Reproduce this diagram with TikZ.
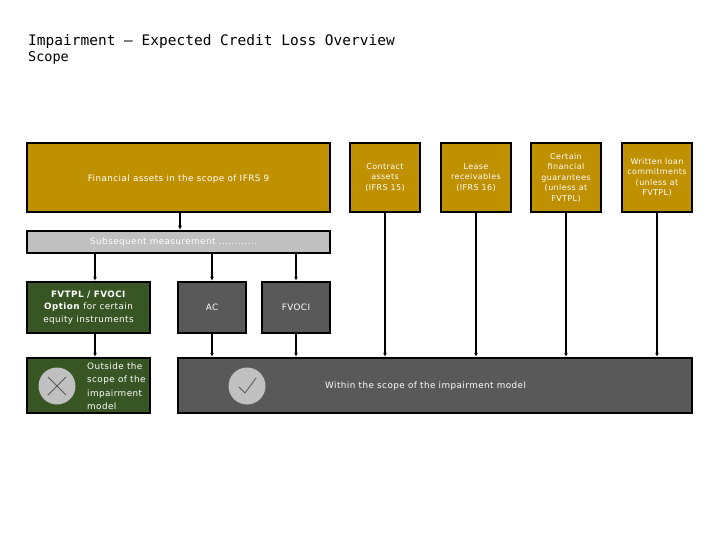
\documentclass[tikz,border=0pt]{standalone}
\usepackage{fontspec}
\setmainfont{DejaVu Sans}[LetterSpace=5]
\newfontfamily\titlefont{DejaVu Sans Mono}
\usetikzlibrary{arrows.meta}
\begin{document}
\begin{tikzpicture}[x=1pt,y=-1pt,
 box/.style={draw=black,line width=2.5pt,text=white,inner sep=1pt,align=center,font=\fontsize{8}{10.5}\selectfont},
 gold/.style={box,fill=gold},
 dg/.style={box,fill=dgray},
 gr/.style={box,fill=dgreen},
 lbl/.style={text=white,font=\fontsize{8.8}{11.5}\selectfont,inner sep=0},
 arr/.style={line width=1.3pt,-{Latex[length=4pt,width=4pt]}}]
\definecolor{gold}{HTML}{BF9000}
\definecolor{dgray}{HTML}{595959}
\definecolor{dgreen}{HTML}{375623}
\definecolor{lgray}{HTML}{C0C0C0}
\useasboundingbox (0,0) rectangle (720,540);
\fill[white] (0,0) rectangle (720,540);
\node[anchor=base west,font=\titlefont\fontsize{14.5}{16}\selectfont,inner sep=0] (title) at (28,46) {Impairment – Expected Credit Loss Overview};
\node[anchor=base west,font=\titlefont\fontsize{13.5}{15}\selectfont,inner sep=0] (scope) at (28,62) {Scope};
\node[gold,minimum width=303,minimum height=69] (fa) at (178.5,177.5) {};
\node[lbl] (fat) at (178.5,179) {Financial assets in the scope of IFRS 9};
\node[gold,minimum width=70,minimum height=69] (ca) at (385,177.5) {Contract\\assets\\(IFRS 15)};
\node[gold,minimum width=70,minimum height=69] (lr) at (476,177.5) {Lease\\receivables\\(IFRS 16)};
\node[gold,minimum width=70,minimum height=69] (fg) at (566,177.5) {Certain\\financial\\guarantees\\(unless at\\FVTPL)};
\node[gold,minimum width=70,minimum height=69] (lc) at (657,177.5) {Written loan\\commitments\\(unless at\\FVTPL)};
\node[box,fill=lgray,minimum width=303,minimum height=22] (sm) at (178.5,242) {};
\node[lbl,anchor=west] (smt) at (90,242) {Subsequent measurement ............};
\node[gr,minimum width=123,minimum height=51,font=\fontsize{8.8}{12.5}\selectfont] (fv) at (88.5,307.5) {\textbf{FVTPL / FVOCI}\\\textbf{Option} for certain\\equity instruments};
\node[dg,minimum width=68,minimum height=51,font=\fontsize{8.8}{11}\selectfont] (ac) at (212,307.5) {AC};
\node[dg,minimum width=68,minimum height=51,font=\fontsize{8.8}{11}\selectfont] (fo) at (296,307.5) {FVOCI};
\node[gr,minimum width=123,minimum height=55] (out) at (88.5,385.5) {};
\node[dg,minimum width=514,minimum height=55] (win) at (435,385.5) {};
\node[lbl,align=left,anchor=west,font=\fontsize{8.8}{13.5}\selectfont] (outt) at (87,386) {Outside the\\scope of the\\impairment\\model};
\node[lbl,anchor=west] (wint) at (325,386) {Within the scope of the impairment model};
\node[circle,fill=lgray,minimum size=37,inner sep=0] (xc) at (57,386) {};
\draw[dgray,line width=0.8pt] ([shift={(-9,-9)}]xc.center) -- ([shift={(9,9)}]xc.center) ([shift={(9,-9)}]xc.center) -- ([shift={(-9,9)}]xc.center);
\node[circle,fill=lgray,minimum size=37,inner sep=0] (ck) at (247,386) {};
\draw[dgray,line width=0.8pt] ([shift={(-8,1)}]ck.center) -- ([shift={(-2,7)}]ck.center) -- ([shift={(9,-8)}]ck.center);
\coordinate (fvx) at (95,0);
\draw[arr] (fa.south -| 180,0) -- (sm.north -| 180,0);
\draw[arr] (sm.south -| fvx) -- (fv.north -| fvx);
\draw[arr] (sm.south -| ac) -- (ac.north);
\draw[arr] (sm.south -| fo) -- (fo.north);
\draw[arr] (fv.south -| fvx) -- (out.north -| fvx);
\draw[arr] (ac.south) -- (win.north -| ac);
\draw[arr] (fo.south) -- (win.north -| fo);
\draw[arr] (ca.south) -- (win.north -| ca);
\draw[arr] (lr.south) -- (win.north -| lr);
\draw[arr] (fg.south) -- (win.north -| fg);
\draw[arr] (lc.south) -- (win.north -| lc);
\end{tikzpicture}
\end{document}
